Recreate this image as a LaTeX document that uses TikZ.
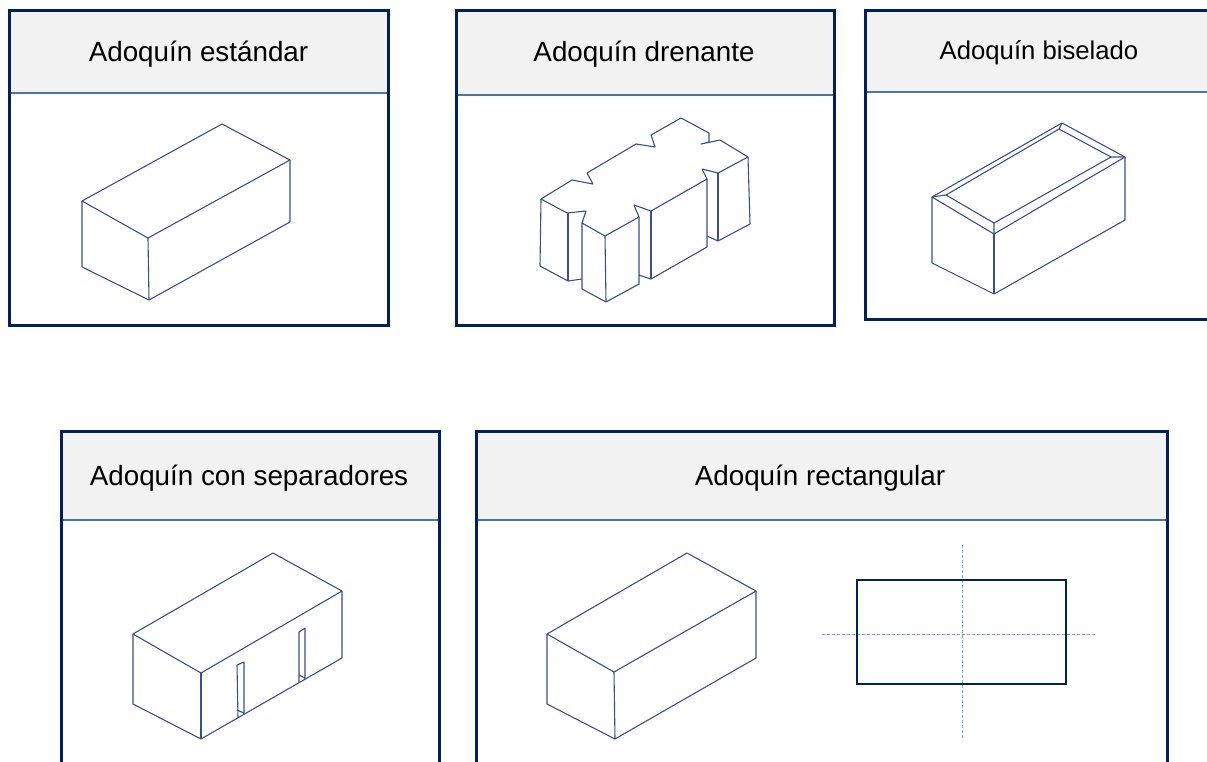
\documentclass[tikz,border=0pt]{standalone}
\usepackage{fontspec}
\setmainfont{Liberation Sans}
\usepackage{xcolor}
\definecolor{framenavy}{HTML}{002060}
\definecolor{ruleblue}{HTML}{4A76A4}
\definecolor{brickline}{HTML}{3A4F8C}
\definecolor{axisblue}{HTML}{6FA8DC}
\definecolor{headgray}{HTML}{F2F2F2}

\begin{document}
\begin{tikzpicture}
		[x=1pt,y=-1pt,
		frame/.style={draw=framenavy,line width=3pt},
		head/.style={fill=headgray},
		headrule/.style={draw=ruleblue,line width=1.5pt},
		brick/.style={draw=brickline,line width=1.1pt,line join=round},
		axis/.style={draw=axisblue,line width=0.9pt,densely dashed},
		title/.style={font=\fontsize{27.8}{32}\selectfont,text=black,inner sep=0pt}]
		\useasboundingbox (0,0) rectangle (1207,761);
		% panels: left, top, right, bottom, header line
		\foreach \l/\t/\r/\b/\h in {9/10/388/325/93,456/10/834/325/95,865/10/1220/319/92,61/431/439/780/520,476/431/1167/780/520} {
			\fill[head] (\l,\t) rectangle (\r,\h);
			\draw[headrule] (\l,\h) -- (\r,\h);
			\draw[frame] (\l,\t) rectangle (\r,\b);
		}
		\node[title] (standard) at (198.5,54.5) {Adoquín estándar};
		\node[title] (drainage) at (644,54.5) {Adoquín drenante};
		\node[title,font=\fontsize{25.7}{30}\selectfont] (bevel) at (1039,52.5) {Adoquín biselado};
		\node[title] (spacers) at (249,478.5) {Adoquín con separadores};
		\node[title] (rectangular) at (820,478.5) {Adoquín rectangular};
		% standard
		\draw[brick] (82,201) -- (222,124) -- (290,160) -- (148,238) -- cycle;
		\draw[brick] (82,201) -- (82,267) -- (149,300) -- (290,222) -- (290,160);
		\draw[brick] (148,238) -- (149,300);
		% drainage
		\draw[brick] (541,199) -- (572,180) -- (593,184) -- (587,173) -- (636,144) -- (655,147) -- (651,135)
			-- (681,118) -- (709,133) -- (709,142) -- (701,144) -- (720,140) -- (748,157) -- (718,173)
			-- (702,169) -- (707,179) -- (651,211) -- (634,205) -- (639,217) -- (605,236) -- (582,223)
			-- (586,211) -- (567,213) -- cycle;
		\draw[brick] (541,199) -- (540,266) -- (568,281) -- (582,279);
		\draw[brick] (568,213) -- (568,281);
		\draw[brick] (582,223) -- (582,289) -- (606,302) -- (639,284) -- (639,217);
		\draw[brick] (605,236) -- (606,302);
		\draw[brick] (639,275) -- (651,279) -- (707,247) -- (707,179);
		\draw[brick] (651,211) -- (651,279);
		\draw[brick] (707,236) -- (718,241) -- (750,224) -- (748,157);
		\draw[brick] (718,173) -- (718,241);
		% bevel
		\draw[brick] (932,197) -- (1062,123) -- (1125,157) -- (994,234) -- cycle;
		\draw[brick] (946,195) -- (1059,129) -- (1111,157) -- (994,223) -- cycle;
		\draw[brick] (932,197) -- (946,195) (1062,123) -- (1059,129) (1125,157) -- (1111,157) (994,234) -- (994,223);
		\draw[brick] (932,197) -- (932,263) -- (994,294) -- (1125,220) -- (1125,157);
		\draw[brick] (994,234) -- (994,294);
		% spacers
		\draw[brick] (133,634) -- (273,553) -- (342,591) -- (201,673) -- cycle;
		\draw[brick] (133,634) -- (133,704) -- (201,739) -- (342,658) -- (342,591);
		\draw[brick] (201,673) -- (201,739);
		\draw[brick] (238,718) -- (237,665) -- (244,662) -- (244,714) (237,710) -- (244,713);
		\draw[brick] (299,683) -- (299,632) -- (305,628) -- (305,679) (299,675) -- (305,678);
		% rectangular
		\draw[brick] (547,634) -- (687,553) -- (756,591) -- (614,672) -- cycle;
		\draw[brick] (547,634) -- (547,704) -- (615,739) -- (756,658) -- (756,591);
		\draw[brick] (614,672) -- (615,739);
		\draw[axis] (962,545) -- (962,740);
		\draw[axis] (822,634) -- (1097,634);
		\draw[draw=framenavy,line width=1.9pt] (857,580) rectangle (1066,684);
\end{tikzpicture}
\end{document}
